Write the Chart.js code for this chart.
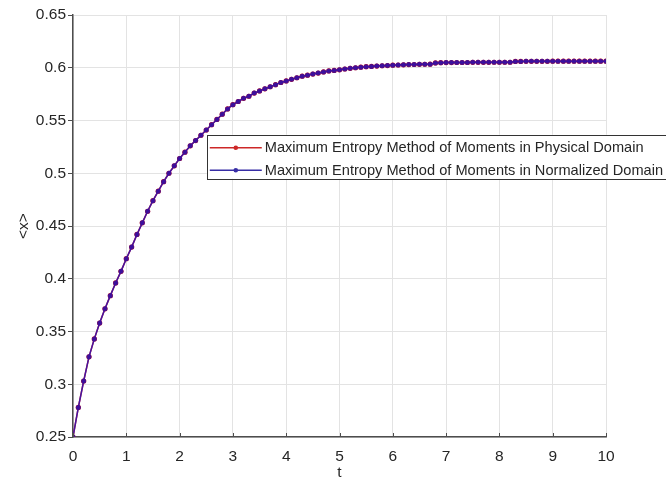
<!DOCTYPE html>
<html>
<head>
<meta charset="utf-8">
<script src="https://cdn.jsdelivr.net/npm/chart.js@4"></script>
<style>
html,body{margin:0;padding:0;background:#fff;}
#wrap{width:666px;height:485px;position:relative;}
</style>
</head>
<body>
<div id="wrap"><canvas id="c" width="666" height="485"></canvas></div>
<script>
const tValues = [0,0.1,0.2,0.3,0.4,0.5,0.6,0.7,0.8,0.9,1,1.1,1.2,1.3,1.4,1.5,1.6,1.7,1.8,1.9,2,2.1,2.2,2.3,2.4,2.5,2.6,2.7,2.8,2.9,3,3.1,3.2,3.3,3.4,3.5,3.6,3.7,3.8,3.9,4,4.1,4.2,4.3,4.4,4.5,4.6,4.7,4.8,4.9,5,5.1,5.2,5.3,5.4,5.5,5.6,5.7,5.8,5.9,6,6.1,6.2,6.3,6.4,6.5,6.6,6.7,6.8,6.9,7,7.1,7.2,7.3,7.4,7.5,7.6,7.7,7.8,7.9,8,8.1,8.2,8.3,8.4,8.5,8.6,8.7,8.8,8.9,9,9.1,9.2,9.3,9.4,9.5,9.6,9.7,9.8,9.9,10];
const physicalDomain = [0.250,0.278,0.303,0.326,0.343,0.358,0.3715,0.384,0.396,0.407,0.419,0.430,0.442,0.453,0.464,0.474,0.483,0.492,0.500,0.507,0.514,0.520,0.526,0.531,0.536,0.541,0.546,0.551,0.556,0.561,0.565,0.568,0.571,0.573,0.576,0.578,0.580,0.582,0.584,0.586,0.5875,0.589,0.5905,0.592,0.593,0.594,0.595,0.596,0.597,0.5975,0.598,0.5988,0.5995,0.600,0.6005,0.601,0.6013,0.6016,0.6019,0.6021,0.6024,0.6026,0.6028,0.6030,0.6031,0.6032,0.6033,0.6034,0.6046,0.6048,0.6049,0.6049,0.6050,0.6050,0.6050,0.6051,0.6051,0.6051,0.6051,0.6052,0.6052,0.6052,0.6052,0.6060,0.6060,0.6061,0.6061,0.6061,0.6061,0.6061,0.6062,0.6062,0.6062,0.6062,0.6062,0.6062,0.6062,0.6062,0.6062,0.6062,0.6062];
const normalizedDomain = physicalDomain.slice();
const seriesNames = ['Maximum Entropy Method of Moments in Physical Domain','Maximum Entropy Method of Moments in Normalized Domain'];
const xTicks = [0,1,2,3,4,5,6,7,8,9,10];
const yTicks = [0.25,0.3,0.35,0.4,0.45,0.5,0.55,0.6,0.65];

const FONT = "'Liberation Sans', Arial, sans-serif";
const TXT = '#262626';

const legendPlugin = {
  id: 'insideLegend',
  afterDraw(chart) {
    const ctx = chart.ctx;
    const xs = chart.scales.x, ys = chart.scales.y;
    const ca = chart.chartArea;
    ctx.save();
    ctx.strokeStyle = '#4d4d4d';
    ctx.lineWidth = 1;
    xTicks.forEach(v => {
      const px = Math.round(xs.getPixelForValue(v)) + 0.5;
      ctx.beginPath(); ctx.moveTo(px, ca.bottom); ctx.lineTo(px, ca.bottom - 4); ctx.stroke();
    });
    const left = xs.getPixelForValue(2.51);
    const top = ys.getPixelForValue(0.5365);
    const w = 480, h = 44;
    ctx.fillStyle = '#fff';
    ctx.fillRect(left, top, w, h);
    ctx.strokeStyle = '#333';
    ctx.lineWidth = 1;
    ctx.strokeRect(Math.round(left) + 0.5, Math.round(top) + 0.5, w, h);
    const cols = ['rgb(205,40,40)', 'rgb(55,45,165)'];
    ctx.font = '14.6px ' + FONT;
    ctx.textBaseline = 'middle';
    seriesNames.forEach((name, i) => {
      const cy = top + 13 + i * 22.5;
      ctx.strokeStyle = cols[i];
      ctx.lineWidth = 1.3;
      ctx.beginPath(); ctx.moveTo(left + 3, cy); ctx.lineTo(left + 55, cy); ctx.stroke();
      ctx.fillStyle = cols[i];
      ctx.beginPath(); ctx.arc(left + 29, cy, 2.3, 0, Math.PI * 2); ctx.fill();
      ctx.fillStyle = TXT;
      ctx.fillText(name, left + 58, cy + 0.5);
    });
    ctx.restore();
  }
};

new Chart(document.getElementById('c'), {
  type: 'line',
  data: {
    datasets: [
      {
        label: seriesNames[0],
        data: tValues.map((t, i) => ({x: t, y: physicalDomain[i]})),
        borderColor: 'rgb(208,20,20)',
        backgroundColor: 'rgb(208,20,20)',
        borderWidth: 1.5,
        pointRadius: 2.6,
        pointHoverRadius: 2.6,
        pointBorderWidth: 0,
        tension: 0,
        order: 2
      },
      {
        label: seriesNames[1],
        data: tValues.map((t, i) => ({x: t, y: normalizedDomain[i]})),
        borderColor: 'rgba(45,20,185,0.85)',
        backgroundColor: 'rgba(55,15,160,0.9)',
        borderWidth: 1.5,
        pointRadius: 2.5,
        pointHoverRadius: 2.5,
        pointBorderWidth: 0,
        tension: 0,
        order: 1
      }
    ]
  },
  options: {
    responsive: false,
    animation: false,
    events: [],
    layout: { padding: { left: 14, top: 15, right: 60, bottom: 0 } },
    plugins: { legend: { display: false }, tooltip: { enabled: false } },
    scales: {
      x: {
        type: 'linear',
        min: 0, max: 10,
        afterBuildTicks: s => { s.ticks = xTicks.map(v => ({value: v})); },
        afterFit: s => { s.height = 48; },
        grid: { color: '#e3e3e3', drawTicks: false, lineWidth: 1 },
        border: { color: '#4d4d4d', width: 1.5 },
        ticks: { color: TXT, font: { family: FONT, size: 15.5 }, padding: 10, maxRotation: 0 },
        title: { display: true, text: 't', color: TXT, font: { family: FONT, size: 15.5 }, padding: { top: 0, bottom: 3 } }
      },
      y: {
        type: 'linear',
        min: 0.25, max: 0.65,
        afterBuildTicks: s => { s.ticks = yTicks.map(v => ({value: v})); },
        afterFit: s => { s.width = 59; },
        grid: { color: '#e3e3e3', drawTicks: true, tickLength: 5, tickColor: '#4d4d4d', lineWidth: 1 },
        border: { color: '#4d4d4d', width: 1.5 },
        ticks: { color: TXT, font: { family: FONT, size: 15.5 }, padding: 2, callback: v => String(Number(v.toFixed(2))) },
        title: { display: true, text: '<x>', color: TXT, font: { family: FONT, size: 15.5 }, padding: { top: 0, bottom: 0 } }
      }
    }
  },
  plugins: [legendPlugin]
});
</script>
</body>
</html>
